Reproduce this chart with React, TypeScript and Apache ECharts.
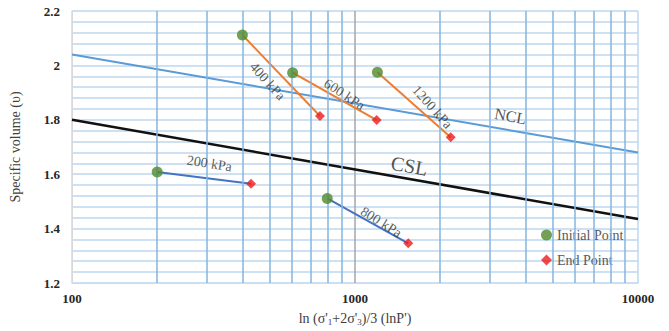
import React, { useEffect, useRef } from 'react';
import * as echarts from 'echarts';

// ---- data ----
const pressureLabels = ['200 kPa', '400 kPa', '600 kPa', '800 kPa', '1200 kPa'];
const initialP = [200, 400, 602, 798, 1200];
const initialV = [1.608, 2.112, 1.973, 1.511, 1.975];
const endP = [429, 752, 1193, 1542, 2178];
const endV = [1.565, 1.814, 1.799, 1.346, 1.736];
const pathColorGroup = ['blue', 'orange', 'orange', 'blue', 'orange'];

const refLineP = [100, 10000];
const nclV = [2.04, 1.68];
const cslV = [1.8, 1.435];
const nclLabelP = 3470;
const cslLabelP = 1528;

const xTickValues = [100, 1000, 10000];
const xMinorGrid = [200, 300, 400, 500, 600, 700, 800, 900, 2000, 3000, 4000, 5000, 6000, 7000, 8000, 9000];
const yMin = 1.2;
const yMax = 2.2;
const yStep = 0.2;

// ---- styles ----
const FONT = "'Liberation Serif', 'Times New Roman', serif";
const COLORS: Record<string, string> = { blue: '#4472c4', orange: '#ed7d31' };
const labelRotate = [-9, -48, -33, -32, -48];
const labelOffset = [[3, -15], [-5, 14], [7, -7], [12, -6], [14, -12]];

function interpLog(p: number, ps: number[], vs: number[]) {
  const t = (Math.log10(p) - Math.log10(ps[0])) / (Math.log10(ps[1]) - Math.log10(ps[0]));
  return vs[0] + t * (vs[1] - vs[0]);
}

export default function App() {
  const ref = useRef<HTMLDivElement>(null);
  useEffect(() => {
    if (!ref.current) return;
    document.body.style.margin = '0';
    const chart = echarts.init(ref.current, undefined, { renderer: 'svg' });

    const segmentSeries = pressureLabels.map((name, i) => ({
      name,
      type: 'line',
      data: [[initialP[i], initialV[i]], [endP[i], endV[i]]],
      symbol: 'none',
      lineStyle: { color: COLORS[pathColorGroup[i]], width: 2 },
      z: 4,
      silent: true,
    }));

    const labelData = pressureLabels.map((name, i) => ({
      name,
      value: [Math.sqrt(initialP[i] * endP[i]), (initialV[i] + endV[i]) / 2],
      label: { rotate: labelRotate[i], offset: labelOffset[i] },
    }));

    const option: any = {
      animation: false,
      textStyle: { fontFamily: FONT },
      grid: { left: 72, right: 31, top: 11, bottom: 48 },
      legend: {
        data: ['Initial Point', 'End Point'],
        orient: 'vertical',
        left: 536,
        top: 223,
        itemGap: 11,
        itemWidth: 11,
        itemHeight: 11,
        textStyle: { fontFamily: FONT, fontSize: 14, color: '#595959' },
      },
      xAxis: {
        type: 'log',
        logBase: 10,
        min: refLineP[0],
        max: refLineP[1],
        name: "ln (σ'{s|1}+2σ'{s|3})/3 (lnP')",
        nameLocation: 'middle',
        nameGap: 28,
        nameTextStyle: {
          fontFamily: FONT,
          fontSize: 14,
          color: '#404040',
          rich: { s: { fontFamily: FONT, fontSize: 9, color: '#404040', verticalAlign: 'bottom', padding: [6, 0, 0, 0] } },
        },
        axisLine: { show: true, lineStyle: { color: '#d9d9d9' } },
        axisTick: { show: false },
        axisLabel: {
          fontFamily: FONT,
          fontSize: 13,
          fontWeight: 'bold',
          color: '#262626',
          margin: 9,
          formatter: (v: number) => (xTickValues.includes(Math.round(v)) ? String(Math.round(v)) : ''),
        },
        splitLine: { show: true, lineStyle: { color: ['#d9d9d9', '#a6a6a6', '#bdd7ee'], width: 1.5 } },
      },
      yAxis: {
        type: 'value',
        min: yMin,
        max: yMax,
        interval: yStep,
        name: 'Specific volume (υ)',
        nameLocation: 'middle',
        nameGap: 50,
        nameTextStyle: { fontFamily: FONT, fontSize: 14, color: '#404040' },
        axisLine: { show: true, lineStyle: { color: '#d9d9d9' } },
        axisTick: { show: false },
        axisLabel: {
          fontFamily: FONT,
          fontSize: 13,
          fontWeight: 'bold',
          color: '#262626',
          margin: 12,
          formatter: (v: number) => String(parseFloat(v.toFixed(1))),
        },
        splitLine: { show: true, lineStyle: { color: '#bdd7ee', width: 1.5 } },
        minorTick: { show: false, splitNumber: 5 },
        minorSplitLine: { show: true, lineStyle: { color: '#bdd7ee', width: 1.5 } },
      },
      series: [
        {
          name: 'minorGrid',
          type: 'line',
          data: [],
          symbol: 'none',
          silent: true,
          z: 1,
          markLine: {
            silent: true,
            symbol: 'none',
            label: { show: false },
            lineStyle: { color: '#86b4e0', width: 1.5, type: 'solid' },
            data: xMinorGrid.map((x) => ({ xAxis: x })),
          },
        },
        {
          name: 'NCL',
          type: 'line',
          data: refLineP.map((p, i) => [p, nclV[i]]),
          symbol: 'none',
          lineStyle: { color: '#5b9bd5', width: 2 },
          z: 3,
          silent: true,
        },
        {
          name: 'CSL',
          type: 'line',
          data: refLineP.map((p, i) => [p, cslV[i]]),
          symbol: 'none',
          lineStyle: { color: '#111111', width: 2.5 },
          z: 3,
          silent: true,
        },
        ...segmentSeries,
        {
          name: 'Initial Point',
          type: 'scatter',
          data: initialP.map((p, i) => [p, initialV[i]]),
          symbol: 'circle',
          symbolSize: 11,
          itemStyle: { color: '#4f8a2c' },
          z: 6,
        },
        {
          name: 'End Point',
          type: 'scatter',
          data: endP.map((p, i) => [p, endV[i]]),
          symbol: 'diamond',
          symbolSize: 10,
          itemStyle: { color: '#ee1c1c' },
          z: 6,
        },
        {
          name: 'pathLabels',
          type: 'scatter',
          data: labelData,
          symbolSize: 0,
          silent: true,
          z: 7,
          label: {
            show: true,
            position: 'inside',
            formatter: (p: any) => p.name,
            fontFamily: FONT,
            fontSize: 14,
            color: '#333333',
          },
        },
        {
          name: 'lineLabels',
          type: 'scatter',
          symbolSize: 0,
          silent: true,
          z: 7,
          data: [
            {
              name: 'NCL',
              value: [nclLabelP, interpLog(nclLabelP, refLineP, nclV)],
              label: { fontSize: 16, offset: [0, -14] },
            },
            {
              name: 'CSL',
              value: [cslLabelP, interpLog(cslLabelP, refLineP, cslV)],
              label: { fontSize: 20, offset: [0, -13] },
            },
          ],
          label: {
            show: true,
            position: 'inside',
            rotate: -10,
            formatter: (p: any) => p.name,
            fontFamily: FONT,
            color: '#262626',
          },
        },
      ],
    };
    chart.setOption(option);
    return () => chart.dispose();
  }, []);
  return <div ref={ref} style={{ width: 669, height: 331 }} />;
}
